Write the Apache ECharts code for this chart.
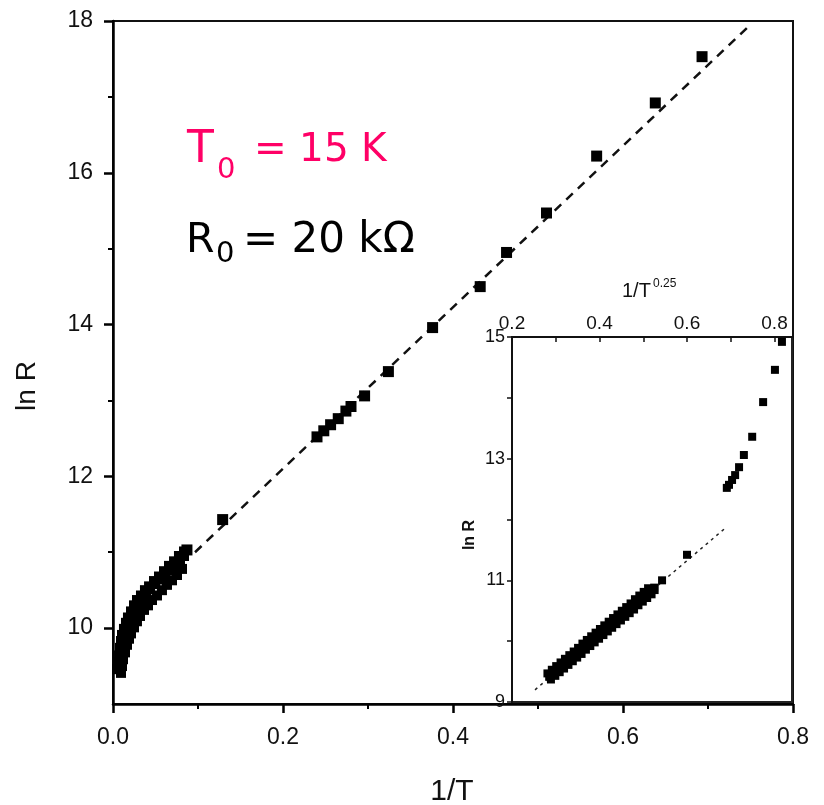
<!DOCTYPE html>
<html>
<head>
<meta charset="utf-8">
<script src="https://cdn.jsdelivr.net/npm/echarts@6/dist/echarts.min.js"></script>
<style>
html,body{margin:0;padding:0;background:#fff;}
#c{width:824px;height:805px;}
</style>
</head>
<body>
<div id="c"></div>
<script>
// ---------- DATA ----------
// main plot: x = 1/T, y = ln R
const mainXTicks = [0.0, 0.2, 0.4, 0.6, 0.8];
const mainYTicks = [10, 12, 14, 16, 18];
const mainYMinorTicks = [11, 13, 15, 17];
// dense high-temperature band (three reading tracks)
const mainBandUpper = [[0.0047,9.46],[0.0059,9.55],[0.0071,9.64],[0.0082,9.74],[0.0094,9.83],[0.0106,9.91],[0.0129,9.99],[0.0153,10.07],[0.0176,10.14],[0.0212,10.22],[0.0247,10.30],[0.0282,10.37],[0.0329,10.43],[0.0376,10.50],[0.0424,10.55],[0.0482,10.62],[0.0541,10.68],[0.0600,10.75],[0.0659,10.82],[0.0718,10.88],[0.0776,10.95],[0.0835,11.01]];
const mainBandMiddle = [[0.0071,9.46],[0.0082,9.58],[0.0106,9.70],[0.0118,9.80],[0.0141,9.89],[0.0165,9.99],[0.0188,10.08],[0.0224,10.16],[0.0259,10.24],[0.0294,10.32],[0.0341,10.38],[0.0388,10.45],[0.0435,10.51],[0.0494,10.58],[0.0553,10.64],[0.0612,10.70],[0.0671,10.76],[0.0729,10.83],[0.0788,10.89],[0.0835,10.95]];
const mainBandLower = [[0.0094,9.41],[0.0106,9.50],[0.0118,9.59],[0.0141,9.68],[0.0165,9.78],[0.0188,9.86],[0.0212,9.93],[0.0247,10.01],[0.0282,10.09],[0.0318,10.16],[0.0365,10.24],[0.0412,10.30],[0.0459,10.37],[0.0518,10.43],[0.0576,10.50],[0.0635,10.57],[0.0694,10.63],[0.0753,10.70],[0.0812,10.78]];
const mainLowT = [[0.087,11.03],[0.129,11.43],[0.240,12.52],[0.248,12.60],[0.256,12.68],[0.265,12.76],[0.274,12.86],[0.280,12.92],[0.296,13.06],[0.324,13.38],[0.376,13.96],[0.432,14.50],[0.463,14.95],[0.510,15.47],[0.569,16.22],[0.638,16.92],[0.693,17.53]];
const mainFit = [[0.0965,11.0],[0.747,17.92]];

// inset: x = 1/T^0.25, y = ln R
const insetXLabels = [0.2, 0.4, 0.6, 0.8];
const insetXTicks = [0.3, 0.4, 0.5, 0.6, 0.7, 0.8];
const insetYLabels = [9, 11, 13, 15];
const insetBandUpper = [[0.281,9.47],[0.291,9.53],[0.301,9.59],[0.311,9.65],[0.321,9.71],[0.331,9.77],[0.341,9.83],[0.351,9.89],[0.361,9.96],[0.371,10.02],[0.381,10.08],[0.391,10.14],[0.401,10.20],[0.411,10.26],[0.421,10.32],[0.431,10.38],[0.441,10.44],[0.451,10.50],[0.461,10.56],[0.471,10.62],[0.481,10.69],[0.491,10.75],[0.501,10.81],[0.511,10.87]];
const insetBandMiddle = [[0.285,9.42],[0.295,9.48],[0.305,9.54],[0.315,9.60],[0.325,9.66],[0.335,9.72],[0.345,9.78],[0.355,9.84],[0.365,9.91],[0.375,9.97],[0.385,10.03],[0.395,10.09],[0.405,10.15],[0.415,10.21],[0.425,10.27],[0.435,10.33],[0.445,10.39],[0.455,10.45],[0.465,10.51],[0.475,10.57],[0.485,10.64],[0.495,10.70],[0.505,10.76],[0.515,10.82],[0.525,10.88]];
const insetBandLower = [[0.289,9.37],[0.299,9.43],[0.309,9.49],[0.319,9.55],[0.329,9.61],[0.339,9.67],[0.349,9.73],[0.359,9.79],[0.369,9.86],[0.379,9.92],[0.389,9.98],[0.399,10.04],[0.409,10.10],[0.419,10.16],[0.429,10.22],[0.439,10.28],[0.449,10.34],[0.459,10.40],[0.469,10.46],[0.479,10.52],[0.489,10.59],[0.499,10.65],[0.509,10.71],[0.519,10.77],[0.526,10.84]];
const insetOther = [[0.543,11.00],[0.600,11.42],[0.691,12.52],[0.696,12.57],[0.703,12.65],[0.710,12.73],[0.719,12.86],[0.730,13.06],[0.749,13.36],[0.774,13.93],[0.801,14.46],[0.817,14.92]];
const insetFit = [[0.2526,9.20],[0.691,11.88]];

// ---------- CHART ----------
const FONT = '"Liberation Sans", Arial, Helvetica, sans-serif';
const ANN = '"DejaVu Sans", sans-serif';
const chart = echarts.init(document.getElementById('c'), null, {renderer: 'canvas'});

function sc(data, size, xi, yi, z) {
  return {type: 'scatter', xAxisIndex: xi, yAxisIndex: yi, data: data, symbol: 'rect', symbolSize: size,
    itemStyle: {color: '#000', opacity: 1}, emphasis: {disabled: true}, z: z};
}

const option = {
  backgroundColor: '#fff',
  animation: false,
  textStyle: {fontFamily: FONT},
  grid: [
    {left: 113, top: 21, width: 680, height: 683, show: true, borderColor: '#111', borderWidth: 2, backgroundColor: 'transparent'},
    {left: 512, top: 337, width: 280, height: 365, show: true, borderColor: '#222', borderWidth: 2, backgroundColor: '#fff', z: 5}
  ],
  xAxis: [
    {
      gridIndex: 0, type: 'value', position: 'bottom', min: 0, max: 0.8, interval: 0.2,
      axisLine: {show: true, onZero: false, lineStyle: {color: '#000', width: 2.5}},
      axisTick: {show: true, inside: false, length: 9, lineStyle: {color: '#000', width: 2.5}},
      minorTick: {show: true, splitNumber: 2, length: 5, lineStyle: {color: '#000', width: 2}},
      axisLabel: {show: true, margin: 22, fontSize: 23, color: '#111', formatter: v => v.toFixed(1)},
      splitLine: {show: false}
    },
    {
      gridIndex: 1, type: 'value', position: 'top', min: 0.2, max: 0.84,
      axisLine: {show: true, onZero: false, lineStyle: {color: '#111', width: 2}},
      axisTick: {show: true, inside: true, length: 5, customValues: insetXTicks, lineStyle: {color: '#111', width: 1.5}},
      axisLabel: {show: true, margin: 4, fontSize: 19, color: '#111', customValues: insetXLabels, formatter: v => v.toFixed(1)},
      splitLine: {show: false}, z: 6
    }
  ],
  yAxis: [
    {
      gridIndex: 0, type: 'value', position: 'left', min: 9, max: 18,
      axisLine: {show: true, onZero: false, lineStyle: {color: '#000', width: 2.5}},
      axisTick: {show: true, inside: false, length: 9, customValues: mainYTicks, lineStyle: {color: '#000', width: 2.5}},
      axisLabel: {show: true, margin: 20, fontSize: 23, color: '#111', customValues: mainYTicks},
      splitLine: {show: false}
    },
    {
      gridIndex: 0, type: 'value', position: 'left', min: 9, max: 18,
      axisLine: {show: false},
      axisTick: {show: true, inside: false, length: 5, customValues: mainYMinorTicks, lineStyle: {color: '#000', width: 2}},
      axisLabel: {show: false},
      splitLine: {show: false}
    },
    {
      gridIndex: 1, type: 'value', position: 'left', min: 9, max: 15, interval: 1,
      axisLine: {show: true, onZero: false, lineStyle: {color: '#111', width: 2}},
      axisTick: {show: true, inside: false, length: 5, lineStyle: {color: '#111', width: 1.5}},
      axisLabel: {show: true, margin: 7, fontSize: 18, color: '#111', customValues: insetYLabels},
      splitLine: {show: false}, z: 6
    }
  ],
  series: [
    {
      type: 'line', xAxisIndex: 0, yAxisIndex: 0, data: mainFit, symbol: 'none',
      lineStyle: {color: '#111', width: 2.5, type: [9, 7]}, z: 2
    },
    sc(mainBandUpper, 10, 0, 0, 3),
    sc(mainBandMiddle, 10, 0, 0, 3),
    sc(mainBandLower, 10, 0, 0, 3),
    sc(mainLowT, 11, 0, 0, 3),
    {
      type: 'line', xAxisIndex: 1, yAxisIndex: 2, data: insetFit, symbol: 'none',
      lineStyle: {color: '#222', width: 1.5, type: [3, 4]}, z: 7
    },
    sc(insetBandUpper, 8, 1, 2, 8),
    sc(insetBandMiddle, 8, 1, 2, 8),
    sc(insetBandLower, 8, 1, 2, 8),
    sc(insetOther, 8, 1, 2, 8)
  ],
  graphic: [
    // main axis titles
    {type: 'text', x: 452, y: 792, z: 20, style: {text: '1/T', font: '30px ' + FONT, fill: '#111', align: 'center', verticalAlign: 'middle'}},
    {type: 'text', x: 27, y: 386, rotation: Math.PI / 2, z: 20, style: {text: 'ln R', font: '28px ' + FONT, fill: '#111', align: 'center', verticalAlign: 'middle'}},
    // inset axis titles
    {type: 'text', x: 622, y: 291, z: 20, style: {text: '1/T', font: '20px ' + FONT, fill: '#111', align: 'left', verticalAlign: 'middle'}},
    {type: 'text', x: 653, y: 284, z: 20, style: {text: '0.25', font: '12px ' + FONT, fill: '#111', align: 'left', verticalAlign: 'middle'}},
    {type: 'text', x: 470, y: 535, rotation: Math.PI / 2, z: 20, style: {text: 'ln R', font: 'bold 16px ' + FONT, fill: '#111', align: 'center', verticalAlign: 'middle'}},
    // annotations
    {type: 'text', x: 187, y: 151, z: 20, style: {text: 'T', font: '44px ' + ANN, fill: '#FF0066', align: 'left', verticalAlign: 'middle'}},
    {type: 'text', x: 217, y: 170, z: 20, style: {text: '0', font: '29px ' + ANN, fill: '#FF0066', align: 'left', verticalAlign: 'middle'}},
    {type: 'text', x: 254, y: 151, z: 20, style: {text: '= 15 K', font: '39px ' + ANN, fill: '#FF0066', align: 'left', verticalAlign: 'middle'}},
    {type: 'text', x: 186, y: 241, z: 20, style: {text: 'R', font: '41px ' + ANN, fill: '#000', align: 'left', verticalAlign: 'middle'}},
    {type: 'text', x: 216, y: 254, z: 20, style: {text: '0', font: '29px ' + ANN, fill: '#000', align: 'left', verticalAlign: 'middle'}},
    {type: 'text', x: 243, y: 241, z: 20, style: {text: '= 20 kΩ', font: '42px ' + ANN, fill: '#000', align: 'left', verticalAlign: 'middle'}}
  ]
};
chart.setOption(option);
</script>
</body>
</html>
